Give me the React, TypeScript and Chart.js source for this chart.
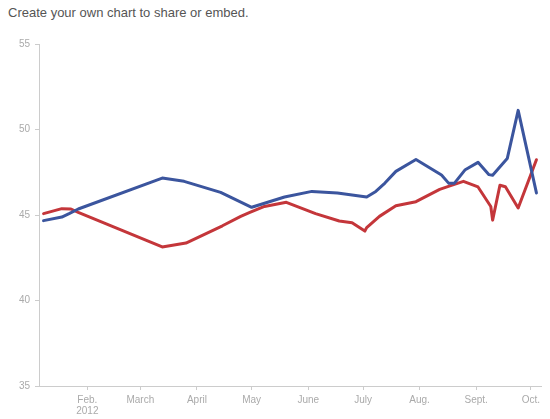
import React, { useEffect, useRef } from "react";
import { Chart, registerables } from "chart.js";

Chart.register(...registerables);

const TITLE = "Create your own chart to share or embed.";

const blueDates = [
  "2012-01-08", "2012-01-18", "2012-01-22", "2012-01-27", "2012-03-13", "2012-03-25",
  "2012-04-14", "2012-05-01", "2012-05-19", "2012-06-03", "2012-06-17", "2012-07-03",
  "2012-07-08", "2012-07-13", "2012-07-19", "2012-07-30", "2012-08-13", "2012-08-17",
  "2012-08-20", "2012-08-26", "2012-09-02", "2012-09-08", "2012-09-10", "2012-09-18",
  "2012-09-24", "2012-10-04",
];
const blueValues = [
  44.67, 44.88, 45.08, 45.35, 47.16, 46.97,
  46.32, 45.45, 46.05, 46.38, 46.29, 46.05,
  46.38, 46.87, 47.55, 48.25, 47.34, 46.85,
  46.85, 47.65, 48.08, 47.36, 47.32, 48.3,
  51.12, 46.29,
];

const redDates = [
  "2012-01-08", "2012-01-18", "2012-01-23", "2012-01-27", "2012-02-08", "2012-03-13",
  "2012-03-26", "2012-04-15", "2012-04-25", "2012-04-30", "2012-05-08", "2012-05-20",
  "2012-06-05", "2012-06-18", "2012-06-25", "2012-07-02", "2012-07-03", "2012-07-10",
  "2012-07-19", "2012-07-30", "2012-08-12", "2012-08-18", "2012-08-25", "2012-09-02",
  "2012-09-09", "2012-09-10", "2012-09-14", "2012-09-17", "2012-09-24", "2012-10-04",
];
const redValues = [
  45.08, 45.37, 45.35, 45.15, 44.63, 43.13,
  43.36, 44.37, 44.92, 45.15, 45.5, 45.74,
  45.08, 44.65, 44.55, 44.06, 44.26, 44.92,
  45.54, 45.78, 46.5, 46.72, 46.97, 46.64,
  45.5, 44.7, 46.74, 46.65, 45.41, 48.23,
];

const monthTickDates = [
  "2012-02-01", "2012-03-01", "2012-04-01", "2012-05-01", "2012-06-01",
  "2012-07-01", "2012-08-01", "2012-09-01", "2012-10-01",
];
const monthTickLabels: (string | string[])[] = [
  ["Feb.", "2012"], "March", "April", "May", "June", "July", "Aug.", "Sept.", "Oct.",
];
const yTicks = [35, 40, 45, 50, 55];
const xRange = ["2012-01-05T12:00:00", "2012-10-06T12:00:00"];

const BASE = Date.UTC(2012, 0, 1);
function dayOf(s: string): number {
  const str = s.length === 10 ? s + "T00:00:00Z" : s + "Z";
  return (Date.parse(str) - BASE) / 86400000;
}

const BLUE = "#3b559e";
const RED = "#c4363a";
const AXIS = "#cccccc";
const TICK_TEXT = "#aaaaaa";

export default function App() {
  const ref = useRef<HTMLCanvasElement | null>(null);

  useEffect(() => {
    if (!ref.current) return;
    const tickDays = monthTickDates.map(dayOf);
    const font = { family: "'Liberation Sans', Arial, sans-serif", size: 10, lineHeight: 1.15 };
    const chart = new Chart(ref.current, {
      type: "line",
      data: {
        datasets: [
          {
            data: blueDates.map((d, i) => ({ x: dayOf(d), y: blueValues[i] })),
            borderColor: BLUE,
            backgroundColor: BLUE,
          },
          {
            data: redDates.map((d, i) => ({ x: dayOf(d), y: redValues[i] })),
            borderColor: RED,
            backgroundColor: RED,
          },
        ],
      },
      options: {
        animation: false,
        responsive: false,
        maintainAspectRatio: false,
        layout: { padding: { top: 44, right: 9, bottom: 0, left: 0 } },
        plugins: { legend: { display: false }, tooltip: { enabled: false } },
        elements: {
          point: { radius: 0, hoverRadius: 0 },
          line: { borderWidth: 3, tension: 0, borderJoinStyle: "round", borderCapStyle: "round" },
        },
        scales: {
          x: {
            type: "linear",
            min: dayOf(xRange[0]),
            max: dayOf(xRange[1]),
            afterBuildTicks: (s: any) => {
              s.ticks = tickDays.map((v) => ({ value: v }));
            },
            afterFit: (s: any) => {
              s.height = 33;
            },
            grid: { drawOnChartArea: false, drawTicks: true, tickLength: 4, color: AXIS },
            border: { color: AXIS, width: 1 },
            ticks: {
              callback: (_v: any, i: number) => monthTickLabels[i],
              color: TICK_TEXT,
              font,
              padding: 4,
              maxRotation: 0,
              autoSkip: false,
            },
          },
          y: {
            min: 35,
            max: 55,
            afterBuildTicks: (s: any) => {
              s.ticks = yTicks.map((v) => ({ value: v }));
            },
            afterFit: (s: any) => {
              s.width = 39;
            },
            grid: { drawOnChartArea: false, drawTicks: true, tickLength: 4, color: AXIS },
            border: { color: AXIS, width: 1 },
            ticks: {
              color: TICK_TEXT,
              font,
              padding: 5,
            },
          },
        },
      },
    });
    return () => chart.destroy();
  }, []);

  return (
    <div style={{ position: "fixed", left: 0, top: 0, width: 550, height: 419, background: "#fff" }}>
      <div
        style={{
          position: "absolute",
          left: 8,
          top: 5,
          fontFamily: "'Liberation Sans', Arial, sans-serif",
          fontSize: 13,
          lineHeight: "15px",
          color: "#555",
          whiteSpace: "nowrap",
        }}
      >
        {TITLE}
      </div>
      <canvas
        ref={ref}
        width={550}
        height={419}
        style={{ position: "absolute", left: 0, top: 0, width: 550, height: 419 }}
      />
    </div>
  );
}
